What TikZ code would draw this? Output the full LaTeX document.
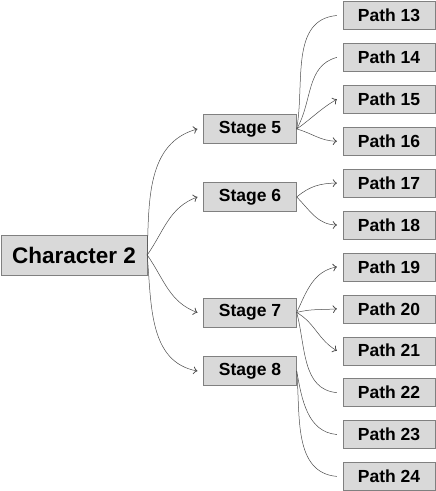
\documentclass[tikz,border=0pt]{standalone}
\usepackage{fontspec}
\setmainfont{Liberation Sans}
\tikzset{->/.style = {draw=black!70, line width=0.5pt, decoration={markings, mark=at position 1 with {\arrow[scale=2]{to}}}, postaction={decorate}}}
\tikzset{box/.style = {draw=black!50, fill=black!15, inner sep=0pt, font=\bfseries\fontsize{17.5}{20}\selectfont}}
\usetikzlibrary{decorations.markings}

\begin{document}
\begin{tikzpicture}[x=1pt,y=1pt]
\useasboundingbox (0,0) rectangle (436,-491);
\node [box, minimum width=146pt, minimum height=40pt, font=\bfseries\fontsize{22.5}{26}\selectfont] (char) at (74,-255) {Character 2};
\node [box, minimum width=93pt, minimum height=29pt] (s5) at (250,-129) {Stage 5};
\node [box, minimum width=93pt, minimum height=29pt] (s6) at (250,-197) {Stage 6};
\node [box, minimum width=93pt, minimum height=29pt] (s7) at (250,-312.5) {Stage 7};
\node [box, minimum width=93pt, minimum height=29pt] (s8) at (250,-371) {Stage 8};
\node [box, minimum width=92pt, minimum height=28pt] (p13) at (389,-15.5) {Path 13};
\node [box, minimum width=92pt, minimum height=28pt] (p14) at (389,-57.4) {Path 14};
\node [box, minimum width=92pt, minimum height=28pt] (p15) at (389,-99.3) {Path 15};
\node [box, minimum width=92pt, minimum height=28pt] (p16) at (389,-141.2) {Path 16};
\node [box, minimum width=92pt, minimum height=28pt] (p17) at (389,-183.1) {Path 17};
\node [box, minimum width=92pt, minimum height=28pt] (p18) at (389,-225) {Path 18};
\node [box, minimum width=92pt, minimum height=28pt] (p19) at (389,-266.9) {Path 19};
\node [box, minimum width=92pt, minimum height=28pt] (p20) at (389,-308.8) {Path 20};
\node [box, minimum width=92pt, minimum height=28pt] (p21) at (389,-350.7) {Path 21};
\node [box, minimum width=92pt, minimum height=28pt] (p22) at (389,-392.6) {Path 22};
\node [box, minimum width=92pt, minimum height=28pt] (p23) at (389,-434.5) {Path 23};
\node [box, minimum width=92pt, minimum height=28pt] (p24) at (389,-476.4) {Path 24};
% character to stages
\draw [->] (char.east) to [out=88, in=195] ([xshift=-6pt]s5.west);
\draw [->] (char.east) to [out=55, in=200] ([xshift=-6pt]s6.west);
\draw [->] (char.east) to [out=-55, in=160] ([xshift=-6pt]s7.west);
\draw [->] (char.east) to [out=-85, in=170] ([xshift=-6pt]s8.west);
% stages to paths
\draw [->] (s5.east) to [out=80, in=185] ([xshift=-6pt]p13.west);
\draw [->] (s5.east) to [out=60, in=195] ([xshift=-6pt]p14.west);
\draw [->] (s5.east) to [out=35, in=210] ([xshift=-6pt]p15.west);
\draw [->] (s5.east) to [out=-15, in=180] ([xshift=-6pt]p16.west);
\draw [->] (s6.east) to [out=40, in=180] ([xshift=-6pt]p17.west);
\draw [->] (s6.east) to [out=-45, in=180] ([xshift=-6pt]p18.west);
\draw [->] (s7.east) to [out=65, in=190] ([xshift=-6pt]p19.west);
\draw [->] (s7.east) to [out=15, in=185] ([xshift=-6pt]p20.west);
\draw [->] (s7.east) to [out=-30, in=150] ([xshift=-6pt]p21.west);
\draw [->] (s7.east) to [out=-75, in=175] ([xshift=-6pt]p22.west);
\draw [->] (s8.east) to [out=-80, in=175] ([xshift=-6pt]p23.west);
\draw [->] (s8.east) to [out=-85, in=175] ([xshift=-6pt]p24.west);
\end{tikzpicture}
\end{document}
